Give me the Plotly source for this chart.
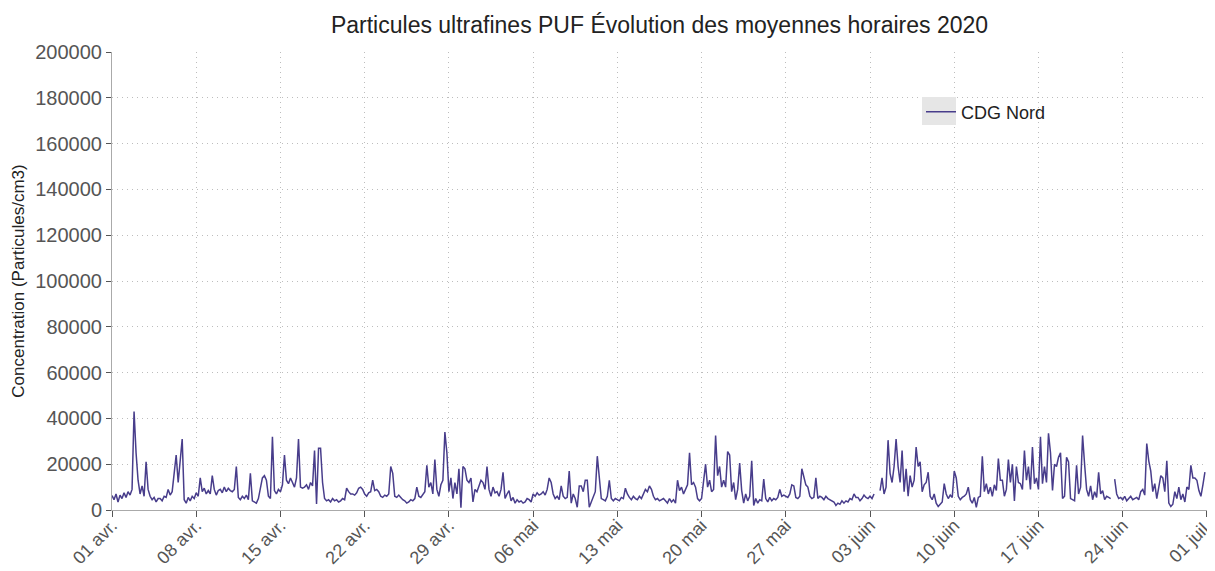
import pandas as pd
import plotly.graph_objects as go

# ---- data (4-hour samples, particles/cm3) ----
start_date = "2020-04-01"
step = "4h"
series_name = "CDG Nord"

concentration = [
    6300, 4500, 7000, 3500, 6500, 5000,      # 01 avr
    7500, 5500, 8000, 6500, 9000, 43000,
    25000, 13000, 7000, 10500, 6000, 21000,
    9000, 6000, 4500, 5500, 3500, 5000,
    5000, 4000, 6000, 5500, 9000, 6500,
    8000, 15000, 24000, 12000, 22000, 31000,
    4500, 3000, 5500, 4000, 6000, 5000,
    7500, 6000, 14000, 8000, 9500, 7000,      # 08 avr
    8500, 7000, 15000, 9000, 6500, 8500,
    9000, 7500, 10000, 8000, 9500, 8500,
    8000, 9000, 19000, 5500, 4500, 6000,
    5000, 6500, 4500, 16000, 4000, 3500,
    3000, 5000, 9000, 14000, 15000, 13000,
    6000, 5000, 32000, 8500, 7000, 9000,
    8000, 11000, 24000, 13000, 11500, 14000,  # 15 avr
    12000, 10000, 14000, 31000, 10000, 9500,
    10000, 11000, 9000, 12000, 10500, 26000,
    2600, 27000, 27000, 12000, 5000, 4000,
    4500, 3500, 5000, 4000, 4500, 3500,
    4000, 5000, 4500, 9500, 8000, 7000,
    7000, 6500, 7500, 9500, 10000, 9000,
    7000, 6000, 7500, 8000, 13000, 8500,      # 22 avr
    9000, 8000, 6000, 5500, 6500, 6000,
    7000, 19000, 16000, 6000, 5500, 6500,
    5500, 4500, 4000, 3000, 3500, 4500,
    4000, 5000, 10000, 6000, 5500, 7000,
    8000, 19500, 10000, 12000, 7000, 22000,
    9000, 6000, 11000, 13000, 34000, 25000,
    8000, 14000, 5000, 12000, 7000, 18000,    # 29 avr
    1000, 19000, 18000, 13000, 12000, 14000,
    3500, 9000, 8000, 10500, 13000, 12000,
    9000, 19000, 9000, 6000, 10000, 7500,
    8000, 6000, 9000, 16500, 5000, 7000,
    8500, 4000, 5500, 3000, 4500, 3500,
    4000, 3000, 3500, 5000, 4500, 3500,
    7000, 6000, 7500, 6500, 7000, 8000,       # 06 mai
    6500, 9000, 14000, 12000, 7000, 5000,
    6000, 4500, 10500, 6000, 5000, 5500,
    17000, 3000, 7000, 5000, 1200, 10500,
    10500, 8000, 13000, 13000, 1200, 3500,
    5500, 8000, 23500, 14000, 5000, 4500,
    4000, 6000, 13000, 5000, 4000, 5000,
    4500, 4000, 5500, 5000, 9500, 7000,       # 13 mai
    5500, 4500, 6000, 5000, 4500, 6000,
    5000, 7000, 9000, 8000, 10500, 9000,
    6000, 4500, 5000, 4000, 4500, 5000,
    4000, 3000, 5000, 3500, 4500, 3000,
    13000, 8500, 10000, 7000, 9000, 11000,
    25000, 11000, 12000, 10000, 5000, 4000,
    5000, 12000, 20000, 10000, 13000, 8000,   # 20 mai
    9000, 32500, 15000, 19000, 10000, 13000,
    10000, 25500, 24000, 8000, 12000, 4500,
    9000, 20500, 8500, 3000, 7000, 4000,
    6000, 21500, 2000, 5000, 3000, 4500,
    4000, 13500, 5000, 3500, 5500, 4000,
    5000, 4500, 5500, 9000, 6000, 6500,
    6000, 5500, 7000, 11000, 10500, 5500,     # 27 mai
    5000, 6000, 18000, 14000, 11000, 10000,
    6000, 5000, 5500, 14000, 5000, 6000,
    5500, 4500, 6000, 5000, 4500, 4000,
    3500, 2000, 3000, 2500, 4000, 3000,
    4000, 3500, 5000, 4500, 7000, 5500,
    5500, 4000, 5000, 6500, 5500, 5000,
    6000, 5000, 7000, None, None, 8500,       # 03 juin
    14000, 7000, 10000, 30500, 16000, 12000,
    19000, 31000, 19000, 12000, 26000, 8000,
    18000, 6000, 15000, 10000, 13000, 27500,
    19000, 21000, 8000, 11000, 12000, 16500,
    6000, 4500, 7000, 3000, 1500, 2500,
    3500, 11500, 7000, 5000, 6500, 5500,
    17000, 14000, 6000, 4500, 5500, 6000,     # 10 juin
    7000, 10000, 4500, 3000, 5500, 1200,
    5500, 6000, 23500, 8000, 11500, 7000,
    10000, 6000, 11000, 8500, 22500, 13000,
    13000, 6000, 9000, 22000, 12000, 20000,
    4000, 19000, 12000, 11500, 9000, 26000,
    13000, 19000, 9000, 27500, 11500, 14000,
    9000, 32000, 11500, 19000, 12000, 33500,  # 17 juin
    25000, 8500, 20000, 19000, 23000, 25000,
    5000, 6000, 23000, 21000, 5000, 4500,
    4000, 19500, 7000, 10000, 32500, 20000,
    9000, 6000, 10500, 4500, 8000, 5500,
    16500, 7000, 8500, 4500, 6000, 5500,
    5000, None, 13500, 7000, 5000, 5500,
    4500, 6000, 4000, 5000, 6000, 4500,       # 24 juin
    5000, 5500, 4500, 8000, 9000, 6500,
    29000, 21500, 17000, 8000, 11500, 5000,
    10000, 15000, 14000, 8000, 21500, 3000,
    1500, 2500, 8000, 5000, 10000, 4500,
    7000, 3500, 10000, 9000, 19500, 14000,
    14000, 13000, 8500, 6000, 11000, 16500,
]

tick_labels = ["01 avr.", "08 avr.", "15 avr.", "22 avr.", "29 avr.",
               "06 mai", "13 mai", "20 mai", "27 mai",
               "03 juin", "10 juin", "17 juin", "24 juin", "01 juil."]
x_start, x_end = "2020-04-01 00:00", "2020-07-01 00:10"
y_ticks = list(range(0, 200001, 20000))
y_tick_labels = [str(v) for v in y_ticks]

times = pd.date_range(start_date, periods=len(concentration), freq=step)
tick_dates = pd.date_range("2020-04-01", "2020-07-01", freq="7D")

FONT = "Liberation Sans, Arial, sans-serif"
LINE = "#483D8B"
GRID_DASH = "1px,4px"

# page body has an 8px margin: figure sized/offset so it fills the 1215x571 window
W, H = 1207, 563

fig = go.Figure()
fig.add_trace(go.Scatter(
    x=times, y=concentration, mode="lines", name=series_name,
    line=dict(color=LINE, width=1.5), connectgaps=False,
))

fig.update_layout(
    width=W, height=H,
    margin=dict(l=104, r=8, t=44, b=61),
    paper_bgcolor="white", plot_bgcolor="white",
    font=dict(family=FONT, size=18, color="#555"),
    title=dict(text="Particules ultrafines PUF Évolution des moyennes horaires 2020",
               x=0.5, xanchor="center", xref="paper",
               y=1 - 17 / H, yref="container", yanchor="middle",
               font=dict(family=FONT, size=23, color="#222")),
    showlegend=True,
    legend=dict(x=(921 - 112) / 1095, xanchor="left",
                y=(510 - 112) / 458, yanchor="middle",
                bgcolor="rgba(0,0,0,0)",
                font=dict(family=FONT, size=18, color="#222")),
    shapes=[dict(type="rect", xref="paper", yref="paper",
                 x0=(922 - 112) / 1095, x1=(956 - 112) / 1095,
                 y0=(510 - 125) / 458, y1=(510 - 97) / 458,
                 fillcolor="#e6e6e6", line=dict(width=0), layer="above")],
)

fig.update_xaxes(
    type="date", range=[x_start, x_end], automargin=False,
    tickvals=tick_dates, ticktext=tick_labels, tickangle=-45,
    tickfont=dict(family=FONT, size=18, color="#555"),
    ticklabelstandoff=-9, ticklabeloverflow="allow",
    showgrid=True, gridcolor="#bdbdbd", griddash=GRID_DASH, gridwidth=1,
    showline=True, linecolor="#aaaaaa", linewidth=1,
    ticks="outside", ticklen=6, tickcolor="#555",
    zeroline=False,
)
fig.update_yaxes(
    range=[0, 200000], tickvals=y_ticks, ticktext=y_tick_labels,
    automargin=False,
    tickfont=dict(family=FONT, size=20, color="#555"),
    showgrid=True, gridcolor="#bdbdbd", griddash=GRID_DASH, gridwidth=1,
    showline=True, linecolor="#aaaaaa", linewidth=1,
    ticks="outside", ticklen=5, tickcolor="#555",
    zeroline=False,
    title=dict(text="Concentration (Particules/cm3)",
               font=dict(family=FONT, size=17, color="#222"), standoff=6),
)

fig.write_html("out.html")
